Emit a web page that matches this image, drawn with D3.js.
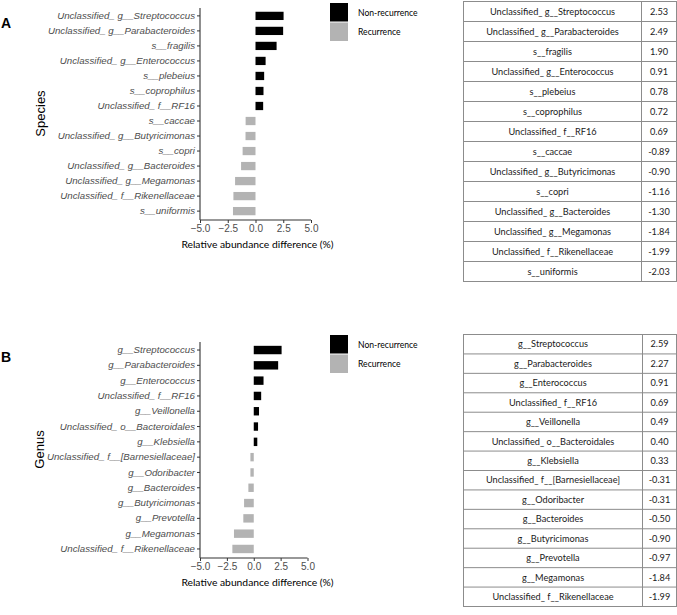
<!DOCTYPE html>
<html>
<head>
<meta charset="utf-8">
<script src="https://cdn.jsdelivr.net/npm/d3@7"></script>
<style>
  html, body { margin: 0; padding: 0; background: #fff; }
  svg { display: block; }
</style>
</head>
<body>
<svg id="chart" width="677" height="615"></svg>
<script>
// ---------------- DATA ----------------
const speciesNames = [
  "Unclassified_ g__Streptococcus", "Unclassified_ g__Parabacteroides", "s__fragilis",
  "Unclassified_ g__Enterococcus", "s__plebeius", "s__coprophilus", "Unclassified_ f__RF16",
  "s__caccae", "Unclassified_ g__Butyricimonas", "s__copri", "Unclassified_ g__Bacteroides",
  "Unclassified_ g__Megamonas", "Unclassified_ f__Rikenellaceae", "s__uniformis"
];
const speciesValues = [2.53, 2.49, 1.90, 0.91, 0.78, 0.72, 0.69, -0.89, -0.90, -1.16, -1.30, -1.84, -1.99, -2.03];

const genusNames = [
  "g__Streptococcus", "g__Parabacteroides", "g__Enterococcus", "Unclassified_ f__RF16",
  "g__Veillonella", "Unclassified_ o__Bacteroidales", "g__Klebsiella",
  "Unclassified_ f__[Barnesiellaceae]", "g__Odoribacter", "g__Bacteroides",
  "g__Butyricimonas", "g__Prevotella", "g__Megamonas", "Unclassified_ f__Rikenellaceae"
];
const genusValues = [2.59, 2.27, 0.91, 0.69, 0.49, 0.40, 0.33, -0.31, -0.31, -0.50, -0.90, -0.97, -1.84, -1.99];

const xTicks = [-5.0, -2.5, 0.0, 2.5, 5.0];
const xDomain = [-5, 5];
const legendLabels = ["Non-recurrence", "Recurrence"];
const groupColors = ["#000000", "#b3b3b3"];
const xTitle = "Relative abundance difference (%)";

// ---------------- DRAW ----------------
const svg = d3.select("#chart");

function drawPanel(p) {
  const g = svg.append("g");
  const x = d3.scaleLinear().domain(xDomain).range([p.x0, p.x1]);
  const y = d3.scaleBand().domain(p.names).range([p.y0, p.y1]).paddingInner(0.45).paddingOuter(0.25);

  // bars
  g.selectAll("rect.bar").data(p.names.map((n, i) => ({ n, v: p.values[i] })))
    .join("rect").attr("class", "bar")
    .attr("x", d => x(Math.min(0, d.v)))
    .attr("width", d => Math.abs(x(d.v) - x(0)))
    .attr("y", d => y(d.n))
    .attr("height", y.bandwidth())
    .attr("fill", d => d.v >= 0 ? groupColors[0] : groupColors[1]);

  // y axis
  const yAxis = g.append("g").attr("transform", `translate(${p.x0},0)`)
    .call(d3.axisLeft(y).tickSize(3).tickPadding(2));
  yAxis.select(".domain").attr("stroke", "#333").attr("stroke-width", 1.1)
    .attr("d", `M0,${p.y0}V${p.y1 + 1}`);
  yAxis.selectAll(".tick line").attr("stroke", "#333");
  yAxis.selectAll(".tick text").attr("fill", "#4d4d4d")
    .style("font-family", "'Liberation Sans', Arial, sans-serif")
    .style("font-style", "italic").style("font-size", "9.7px");

  // x axis
  const xAxis = g.append("g").attr("transform", `translate(0,${p.y1 + 1})`)
    .call(d3.axisBottom(x).tickValues(xTicks).tickFormat(d3.format(".1f")).tickSize(3).tickPadding(2));
  xAxis.select(".domain").attr("stroke", "#333").attr("stroke-width", 1.1)
    .attr("d", `M${p.x0},0H${p.x1}`);
  xAxis.selectAll(".tick line").attr("stroke", "#333");
  xAxis.selectAll(".tick text").attr("fill", "#4d4d4d")
    .style("font-family", "'Liberation Sans', Arial, sans-serif").style("font-size", "10px");

  // x title
  g.append("text").attr("x", 257.5).attr("y", p.y1 + 29)
    .attr("text-anchor", "middle").attr("fill", "#000")
    .style("font-family", "Lato, 'Open Sans', sans-serif").style("font-size", "10.3px")
    .text(xTitle);

  // y title
  g.append("text").attr("transform", `translate(${p.ytX},${(p.y0 + p.y1) / 2}) rotate(-90)`)
    .attr("text-anchor", "middle").attr("dy", "0.35em").attr("fill", "#000")
    .style("font-family", "'Liberation Sans', Arial, sans-serif").style("font-size", "13px")
    .text(p.yTitle);

  // panel letter
  g.append("text").attr("x", 1).attr("y", p.letterY)
    .attr("fill", "#000").style("font-family", "'Liberation Sans', Arial, sans-serif")
    .style("font-weight", "bold").style("font-size", "14px").text(p.letter);

  // legend
  const lg = g.append("g");
  legendLabels.forEach((lab, i) => {
    lg.append("rect").attr("x", 330).attr("y", p.legY + i * 19.5).attr("width", 18).attr("height", 18.5)
      .attr("fill", groupColors[i]);
    lg.append("text").attr("x", 358).attr("y", p.legY + i * 19.5 + 9.5).attr("dy", "0.35em")
      .attr("fill", "#000").style("font-family", "Lato, 'Open Sans', sans-serif").style("font-size", "8.6px")
      .text(lab);
  });

  // table
  const tb = g.append("g");
  const rowH = (p.tBot - p.tTop) / p.names.length;
  const lineCol = "#8c8c8c";
  tb.append("rect").attr("x", p.tL).attr("y", p.tTop).attr("width", p.tR - p.tL).attr("height", p.tBot - p.tTop)
    .attr("fill", "none").attr("stroke", lineCol).attr("stroke-width", 1);
  tb.append("line").attr("x1", p.tSep).attr("x2", p.tSep).attr("y1", p.tTop).attr("y2", p.tBot)
    .attr("stroke", lineCol);
  p.names.forEach((n, i) => {
    const yy = p.tTop + i * rowH;
    if (i > 0) tb.append("line").attr("x1", p.tL).attr("x2", p.tR).attr("y1", yy).attr("y2", yy).attr("stroke", lineCol);
    tb.append("text").attr("x", (p.tL + p.tSep) / 2).attr("y", yy + rowH / 2).attr("dy", "0.35em")
      .attr("text-anchor", "middle").attr("fill", "#1a1a1a")
      .style("font-family", "Lato, 'Open Sans', sans-serif").style("font-size", "9.2px").text(n);
    tb.append("text").attr("x", (p.tSep + p.tR) / 2).attr("y", yy + rowH / 2).attr("dy", "0.35em")
      .attr("text-anchor", "middle").attr("fill", "#1a1a1a")
      .style("font-family", "Lato, 'Open Sans', sans-serif").style("font-size", "9.2px")
      .text(d3.format(".2f")(p.values[i]).replace("−", "-"));
  });
}

drawPanel({
  names: speciesNames, values: speciesValues, letter: "A", letterY: 28, yTitle: "Species", ytX: 40,
  x0: 200, x1: 311, y0: 8, y1: 219, legY: 3,
  tL: 463.5, tR: 676.5, tSep: 641.5, tTop: 1.5, tBot: 281.5
});
drawPanel({
  names: genusNames, values: genusValues, letter: "B", letterY: 362, yTitle: "Genus", ytX: 39,
  x0: 200, x1: 307.5, y0: 342, y1: 557, legY: 335,
  tL: 463.5, tR: 676.5, tSep: 642.5, tTop: 334.5, tBot: 606.5
});
</script>
</body>
</html>
